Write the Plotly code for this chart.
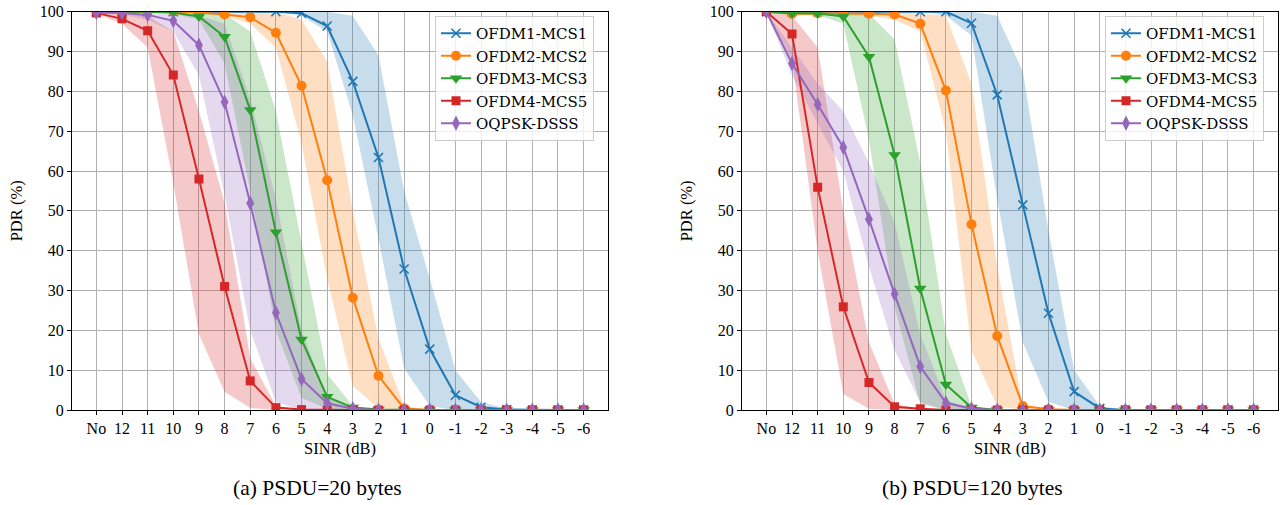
import plotly.graph_objects as go

categories = ["No", "12", "11", "10", "9", "8", "7", "6", "5", "4", "3", "2", "1", "0",
              "-1", "-2", "-3", "-4", "-5", "-6"]
series_names = ["OFDM1-MCS1", "OFDM2-MCS2", "OFDM3-MCS3", "OFDM4-MCS5", "OQPSK-DSSS"]
y_ticks = [0, 10, 20, 30, 40, 50, 60, 70, 80, 90, 100]
subtitles = ["(a) PSDU=20 bytes", "(b) PSDU=120 bytes"]

# ---- PSDU = 20 bytes ----
ofdm1_20 = [100, 100, 100, 100, 100, 100, 100, 100, 99.6, 96.4, 82.5, 63.4, 35.4, 15.3, 3.7, 0.7, 0.1, 0, 0, 0]
ofdm1_20_lo = [100, 100, 100, 100, 100, 100, 100, 100, 99, 95, 74, 43, 10.5, 1, 0, 0, 0, 0, 0, 0]
ofdm1_20_hi = [100, 100, 100, 100, 100, 100, 100, 100, 100, 100, 99, 89, 55, 33, 10, 2, 0.3, 0, 0, 0]

ofdm2_20 = [100, 100, 100, 100, 99.8, 99.3, 98.6, 94.7, 81.4, 57.7, 28.2, 8.6, 0.4, 0, 0, 0, 0, 0, 0, 0]
ofdm2_20_lo = [100, 100, 100, 100, 99.5, 99, 97, 91, 67, 33, 6, 0.5, 0, 0, 0, 0, 0, 0, 0, 0]
ofdm2_20_hi = [100, 100, 100, 100, 100, 100, 100, 100, 98, 87.5, 50, 18, 1, 0, 0, 0, 0, 0, 0, 0]

ofdm3_20 = [100, 100, 100, 99.8, 98.8, 93.7, 75.3, 44.6, 17.7, 3.3, 0.6, 0.1, 0, 0, 0, 0, 0, 0, 0, 0]
ofdm3_20_lo = [100, 100, 100, 99.5, 98, 87, 55, 20, 3, 0.3, 0, 0, 0, 0, 0, 0, 0, 0, 0, 0]
ofdm3_20_hi = [100, 100, 100, 100, 100, 99.5, 95, 75, 42, 9, 1, 0, 0, 0, 0, 0, 0, 0, 0, 0]

ofdm4_20 = [99.7, 98.2, 95.2, 84.1, 58.0, 31.0, 7.3, 0.6, 0.1, 0, 0, 0, 0, 0, 0, 0, 0, 0, 0, 0]
ofdm4_20_lo = [99.5, 97, 91, 57, 19, 4.6, 0.5, 0, 0, 0, 0, 0, 0, 0, 0, 0, 0, 0, 0, 0]
ofdm4_20_hi = [100, 100, 99, 95, 75, 52, 13, 1, 0, 0, 0, 0, 0, 0, 0, 0, 0, 0, 0, 0]

oqpsk_20 = [99.8, 99.7, 99.2, 97.7, 91.6, 77.3, 51.9, 24.4, 7.8, 1.7, 0.3, 0, 0, 0, 0, 0, 0, 0, 0, 0]
oqpsk_20_lo = [99.5, 99.3, 98, 95, 84, 54, 20, 2, 0, 0, 0, 0, 0, 0, 0, 0, 0, 0, 0, 0]
oqpsk_20_hi = [100, 100, 100, 100, 99, 97, 78, 53, 20, 3, 0.3, 0, 0, 0, 0, 0, 0, 0, 0, 0]

# ---- PSDU = 120 bytes ----
ofdm1_120 = [100, 100, 100, 100, 100, 100, 100, 100, 97.1, 79.1, 51.5, 24.3, 4.6, 0.4, 0, 0, 0, 0, 0, 0]
ofdm1_120_lo = [100, 100, 100, 100, 100, 100, 100, 99, 94, 53, 17, 2, 0, 0, 0, 0, 0, 0, 0, 0]
ofdm1_120_hi = [100, 100, 100, 100, 100, 100, 100, 100, 100, 99, 85, 45, 10, 1, 0, 0, 0, 0, 0, 0]

ofdm2_120 = [100, 99.5, 99.6, 99.6, 99.5, 99.3, 97.0, 80.2, 46.6, 18.6, 1.0, 0.2, 0, 0, 0, 0, 0, 0, 0, 0]
ofdm2_120_lo = [100, 99, 99, 99, 99, 98, 95, 70, 15, 1, 0, 0, 0, 0, 0, 0, 0, 0, 0, 0]
ofdm2_120_hi = [100, 100, 100, 100, 100, 100, 99.5, 99, 82, 36, 1, 0.2, 0, 0, 0, 0, 0, 0, 0, 0]

ofdm3_120 = [100, 99.6, 99.6, 98.8, 88.7, 64.0, 30.5, 6.4, 0.6, 0, 0, 0, 0, 0, 0, 0, 0, 0, 0, 0]
ofdm3_120_lo = [100, 99.2, 99.2, 97, 68, 26, 1.5, 0, 0, 0, 0, 0, 0, 0, 0, 0, 0, 0, 0, 0]
ofdm3_120_hi = [100, 100, 100, 100, 99.5, 93, 62, 19, 1, 0, 0, 0, 0, 0, 0, 0, 0, 0, 0, 0]

ofdm4_120 = [100, 94.4, 55.9, 25.9, 6.9, 0.8, 0.3, 0, 0, 0, 0, 0, 0, 0, 0, 0, 0, 0, 0, 0]
ofdm4_120_lo = [100, 88, 40, 4, 0.3, 0, 0, 0, 0, 0, 0, 0, 0, 0, 0, 0, 0, 0, 0, 0]
ofdm4_120_hi = [100, 99, 91, 50, 17, 1.5, 0.3, 0, 0, 0, 0, 0, 0, 0, 0, 0, 0, 0, 0, 0]

oqpsk_120 = [100, 87.0, 76.7, 65.9, 47.9, 29.1, 10.9, 1.8, 0.3, 0, 0, 0, 0, 0, 0, 0, 0, 0, 0, 0]
oqpsk_120_lo = [100, 84, 72, 60, 36, 15, 2, 0, 0, 0, 0, 0, 0, 0, 0, 0, 0, 0, 0, 0]
oqpsk_120_hi = [100, 91, 82, 75, 62, 47, 19, 2.5, 0.3, 0, 0, 0, 0, 0, 0, 0, 0, 0, 0, 0]

panel_20 = [(ofdm1_20, ofdm1_20_lo, ofdm1_20_hi), (ofdm2_20, ofdm2_20_lo, ofdm2_20_hi),
            (ofdm3_20, ofdm3_20_lo, ofdm3_20_hi), (ofdm4_20, ofdm4_20_lo, ofdm4_20_hi),
            (oqpsk_20, oqpsk_20_lo, oqpsk_20_hi)]
panel_120 = [(ofdm1_120, ofdm1_120_lo, ofdm1_120_hi), (ofdm2_120, ofdm2_120_lo, ofdm2_120_hi),
             (ofdm3_120, ofdm3_120_lo, ofdm3_120_hi), (ofdm4_120, ofdm4_120_lo, ofdm4_120_hi),
             (oqpsk_120, oqpsk_120_lo, oqpsk_120_hi)]

colors = ["#1f77b4", "#ff7f0e", "#2ca02c", "#d62728", "#9467bd"]
fills = ["rgba(31,119,180,0.25)", "rgba(255,127,14,0.25)", "rgba(44,160,44,0.25)",
         "rgba(214,39,40,0.25)", "rgba(148,103,189,0.25)"]
markers = [dict(symbol="x-thin", size=9, line=dict(width=1.6)),
           dict(symbol="circle", size=10),
           dict(symbol="triangle-down", size=11),
           dict(symbol="square", size=9),
           dict(symbol="diamond-tall", size=11)]

xi = list(range(len(categories)))
SERIF = "Liberation Serif, Times New Roman, serif"

fig = go.Figure()

for p, (panel, xa, ya, lg) in enumerate([(panel_20, "x", "y", "legend"),
                                          (panel_120, "x2", "y2", "legend2")]):
    # shaded bands first
    for k, (mean, lo, hi) in enumerate(panel):
        fig.add_trace(go.Scatter(
            x=xi + xi[::-1], y=hi + lo[::-1], xaxis=xa, yaxis=ya,
            fill="toself", fillcolor=fills[k], line=dict(width=0),
            mode="lines", hoverinfo="skip", showlegend=False))
    for k, (mean, lo, hi) in enumerate(panel):
        m = dict(markers[k])
        m["color"] = colors[k]
        if "line" in m:
            m["line"] = dict(m["line"], color=colors[k])
        else:
            m["line"] = dict(width=0)
        fig.add_trace(go.Scatter(
            x=xi, y=mean, xaxis=xa, yaxis=ya, mode="lines+markers",
            name=series_names[k], legend=lg,
            line=dict(color=colors[k], width=2), marker=m))

W, H = 1284, 505


def px_x(v):
    return v / W


def px_y(v):
    return 1 - v / H


dom_left = [px_x(72), px_x(608)]
dom_right = [px_x(742), px_x(1278)]
dom_y = [px_y(410), px_y(11.7)]

axis_common = dict(
    showline=True, mirror=True, linecolor="black", linewidth=1,
    showgrid=True, gridcolor="#b0b0b0", gridwidth=1,
    ticks="outside", ticklen=4, tickcolor="black", tickwidth=1,
    tickfont=dict(family=SERIF, size=16, color="black"),
    zeroline=False, automargin=False, ticklabeloverflow="allow",
)

xaxis_common = dict(axis_common, tickmode="array", tickvals=xi, ticktext=categories,
                    range=[-0.95, len(categories) - 1 + 0.95],
                    title=dict(text="SINR (dB)", font=dict(family=SERIF, size=16.5, color="black"),
                               standoff=6))
yaxis_common = dict(axis_common, tickmode="array", tickvals=y_ticks, range=[0, 100],
                    title=dict(text="PDR (%)", font=dict(family=SERIF, size=16.5, color="black"),
                               standoff=13))

legend_common = dict(
    bgcolor="rgba(255,255,255,0.8)", bordercolor="#cccccc", borderwidth=1,
    font=dict(family="DejaVu Serif, serif", size=15, color="black"),
    xanchor="left", yanchor="top", itemwidth=30, tracegroupgap=0,
)

fig.update_layout(
    template="none",
    width=W, height=H, margin=dict(l=0, r=0, t=0, b=0, autoexpand=False),
    paper_bgcolor="white", plot_bgcolor="white",
    showlegend=True,
    xaxis=dict(xaxis_common, domain=dom_left, anchor="y"),
    yaxis=dict(yaxis_common, domain=dom_y, anchor="x"),
    xaxis2=dict(xaxis_common, domain=dom_right, anchor="y2"),
    yaxis2=dict(yaxis_common, domain=dom_y, anchor="x2"),
    legend=dict(legend_common, x=px_x(435), y=px_y(16)),
    legend2=dict(legend_common, x=px_x(1105), y=px_y(16)),
    annotations=[
        dict(text=subtitles[0], x=px_x(317), y=px_y(488), xref="paper", yref="paper",
             showarrow=False, xanchor="center", yanchor="middle",
             font=dict(family=SERIF, size=21.5, color="black")),
        dict(text=subtitles[1], x=px_x(973), y=px_y(488), xref="paper", yref="paper",
             showarrow=False, xanchor="center", yanchor="middle",
             font=dict(family=SERIF, size=21.5, color="black")),
    ],
)

# Remove the browser's default 8px body margin so the figure fills the window exactly.
fig.write_html("out.html",
               config={"displayModeBar": False},
               post_script="document.body.style.margin='0';document.body.style.overflow='hidden';")
